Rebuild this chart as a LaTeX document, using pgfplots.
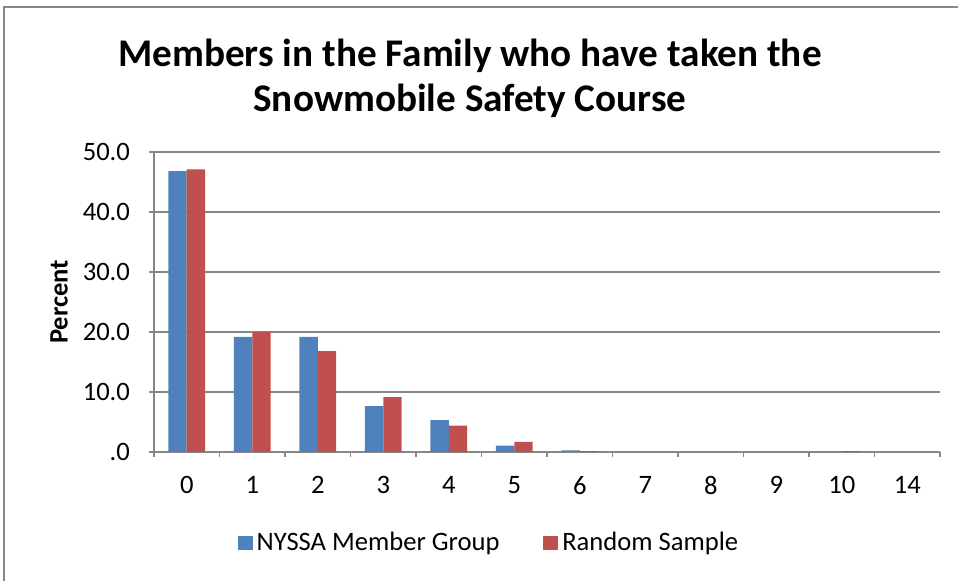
\documentclass[border=0pt]{standalone}
\usepackage{pgfplots}
\pgfplotsset{compat=1.18}
\usepackage{fontspec}
\setmainfont{Carlito}
\definecolor{xlblue}{HTML}{4F81BD}
\definecolor{xlred}{HTML}{C0504D}
\definecolor{xlgray}{HTML}{878787}
\begin{document}
\begin{tikzpicture}
\useasboundingbox (0pt,0pt) rectangle (479pt,290.5pt);
\draw[xlgray,line width=1pt] (2pt,0pt) -- (2pt,287pt) -- (479pt,287pt);
\node[align=center,font=\fontsize{19.6}{22.5}\selectfont\bfseries] at (235pt,251.5pt) {Members in the Family who have taken the\\Snowmobile Safety Course};
\begin{axis}[
  at={(77pt,64.5pt)}, anchor=south west,
  scale only axis, width=393pt, height=150pt,
  xmin=-0.5, xmax=11.5, ymin=0, ymax=50,
  ybar=0pt, bar width=9.2pt,
  axis x line*=bottom, axis y line*=left,
  axis line style={xlgray, line width=0.9pt},
  xtick={0,...,11},
  xticklabels={0,1,2,3,4,5,6,7,8,9,10,14},
  major x tick style={draw=none},
  minor xtick={-0.5,0.5,...,11.5},
  minor x tick style={xlgray, line width=0.9pt},
  minor tick length=2.5pt,
  ytick={0,10,...,50},
  yticklabels={.0,10.0,20.0,30.0,40.0,50.0},
  major y tick style={xlgray, line width=0.9pt},
  major tick length=2.5pt,
  tick align=outside,
  ymajorgrids, grid style={xlgray, line width=0.9pt},
  tick label style={font=\fontsize{13.3}{15}\selectfont},
  /pgf/number format/assume math mode=true,
  xticklabel style={yshift=-6pt},
  yticklabel style={xshift=-6pt},
  ylabel={\bfseries Percent},
  ylabel style={font=\fontsize{13.3}{15}\selectfont, at={(axis description cs:-0.1209,0.5)}, anchor=center, rotate=0},
  legend style={at={(168pt,-45.5pt)}, anchor=center, draw=none, fill=none,
    legend columns=2, font=\fontsize{13.3}{15}\selectfont,
    /tikz/every even column/.append style={column sep=20pt}},
  legend cell align=left,
  legend image code/.code={\fill[#1] (0pt,-3.7pt) rectangle (7.4pt,3.7pt);},
]
\addplot[fill=xlblue, draw=none] coordinates {(0,46.8) (1,19.2) (2,19.2) (3,7.65) (4,5.3) (5,1.05) (6,0.25) (7,0.05) (8,0.05) (9,0.05) (10,0.0) (11,0.0)};
\addplot[fill=xlred, draw=none] coordinates {(0,47.1) (1,20.0) (2,16.8) (3,9.15) (4,4.4) (5,1.7) (6,0.15) (7,0.05) (8,0.03) (9,0.03) (10,0.15) (11,0.0)};
\legend{NYSSA Member Group, Random Sample}
\end{axis}
\end{tikzpicture}
\end{document}
